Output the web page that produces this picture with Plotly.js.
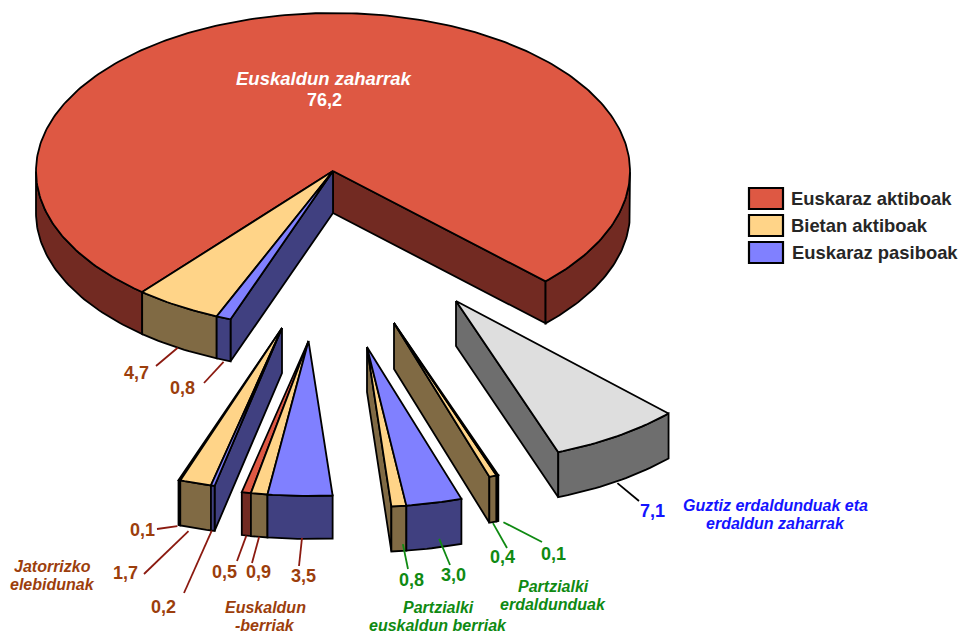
<!DOCTYPE html>
<html><head><meta charset="utf-8">
<script src="https://cdn.plot.ly/plotly-3.0.1.min.js"></script>
<style>html,body{margin:0;padding:0;background:#fff}#c{width:962px;height:633px}</style>
</head><body><div id="c"></div>
<script>
// ---- data ----
const groupNames = ["Euskaldun zaharrak","Jatorrizko elebidunak","Euskaldun -berriak","Partzialki euskaldun berriak","Partzialki erdaldunduak","Guztiz erdaldunduak eta erdaldun zaharrak"];
const groupValues = [[76.2,4.7,0.8],[0.1,1.7,0.2],[0.5,0.9,3.5],[0.8,3.0],[0.4,0.1],[7.1]];
const groupKinds = [[0,1,2],[0,1,2],[0,1,2],[1,2],[1,1],[3]];
const legendNames = ["Euskaraz aktiboak","Bietan aktiboak","Euskaraz pasiboak"];

// ---- styles and layout ----
const topColors = ["#DE5843","#FFD488","#8080FF","#DEDEDE"];
const wallColors = ["#722A22","#806A44","#404080","#6E6E6E"];
const apexX = [333,282,308.5,367,394,456];
const apexY = [171,328,341,347,323,301];
const radX = [297,300,297,300,303,297];
const radY = [158,162,155,160,162,161];
const depths = [42,45,43,45,46,45];
const START = 44.3;
const BROWN = "#9C3E0C", GREEN = "#0F8A12", BLUE = "#1414FF", INK = "#262626";
const FONT = "Liberation Sans, Arial, sans-serif";

const traces = [];
const rad = d => d*Math.PI/180;
const rim = (g,a,dz=0) => [apexX[g]+radX[g]*Math.cos(rad(a)), apexY[g]+radY[g]*Math.sin(rad(a))+dz];
function poly(pts, fill, w=1.8){
  traces.push({type:"scatter",mode:"lines",x:pts.concat([pts[0]]).map(p=>p[0]),y:pts.concat([pts[0]]).map(p=>p[1]),
    fill:"toself",fillcolor:fill,line:{color:"#000",width:w,shape:"linear"},hoverinfo:"skip",showlegend:false});
}
function arc(a1,a2){ const n=Math.max(2,Math.ceil(Math.abs(a1-a2))); const o=[];
  for(let i=0;i<=n;i++) o.push(a1+(a2-a1)*i/n); return o; }
let angle = START;
const spans = groupValues.map(vals => vals.map(v => { const a=angle, b=angle-v*3.6; angle=b; return [a,b]; }));

// back to front: far group first
[0,5,4,3,2,1].forEach(g=>{
  const sp = spans[g], first = sp[0][0], last = sp[sp.length-1][1], P = [apexX[g],apexY[g]];
  const kinds = groupKinds[g], D = depths[g];
  // radial walls, only when they face the viewer
  const walls = [];
  if(Math.cos(rad(first))>0) walls.push([first,kinds[0]]);
  if(Math.cos(rad(last))<0) walls.push([last,kinds[kinds.length-1]]);
  walls.forEach(([a,k])=>{
    poly([P,rim(g,a),rim(g,a,D),[P[0],P[1]+D]], wallColors[k]);
  });
  // outer walls, only the part of each arc that faces the viewer
  sp.forEach(([a,b],i)=>{
    const k=kinds[i]; let run=[];
    const flush=()=>{ if(run.length>1){ poly(run.map(t=>rim(g,t)).concat(run.slice().reverse().map(t=>rim(g,t,D))), wallColors[k]); } run=[]; };
    arc(a,b).forEach(t=>{ const s=Math.sin(rad(t)); if(s>=-0.001) run.push(t); else flush(); });
    flush();
  });
  // top faces
  sp.forEach(([a,b],i)=>{ poly([P].concat(arc(a,b).map(t=>rim(g,t))), topColors[kinds[i]]); });
});

// leader lines: group, slice, end point, nudge of the start point, colour
const leaders = [
 [0,1,156,366,0,0,"#8B1A10"],[0,2,204,383,0,2,"#8B1A10"],
 [1,0,157,529,-2,1,"#8B1A10"],[1,1,144,574,-7,3,"#8B1A10"],[1,2,184,593,-1,0,"#8B1A10"],
 [2,0,237,561,0,0,"#8B1A10"],[2,1,252,563,0,0,"#8B1A10"],[2,2,299,566,2,-1,"#8B1A10"],
 [3,0,408,569,4,-7,GREEN],[3,1,450,565,5,-9,GREEN],
 [4,0,507,548,0,1,GREEN],[4,1,542,542,6,1,GREEN],
 [5,0,639,501,0,2,"#000"]
];
leaders.forEach(([g,s,ex,ey,nx,ny,c])=>{
  const [a,b]=spans[g][s]; const r=rim(g,(a+b)/2,depths[g]);
  traces.push({type:"scatter",mode:"lines",x:[r[0]+nx,ex],y:[r[1]+ny,ey],line:{color:c,width:1.8},hoverinfo:"skip",showlegend:false});
});

// ---- text ----
const fmt = v => v.toFixed(1).replace(".",",");
const ann = [];
function txt(x,y,text,size,color,italic,anchor="center"){
  ann.push({x,y,xref:"x",yref:"y",text:italic?"<b><i>"+text+"</i></b>":"<b>"+text+"</b>",showarrow:false,xanchor:anchor,yanchor:"middle",align:"center",
    font:{family:FONT,size,color}});
}
const vPos = [[[324,100],[136,373],[182,388]],[[142,530],[125,573],[163,607]],[[224,572],[258,572],[303,576]],[[411,580],[453,575]],[[502,557],[553,554]],[[652,511]]];
groupValues.forEach((vals,g)=>vals.forEach((v,i)=>{
  const c = g===0&&i===0?"#fff":g<3?BROWN:g<5?GREEN:BLUE;
  txt(vPos[g][i][0],vPos[g][i][1],fmt(v),18,c,false);
}));
const nameLines = [[groupNames[0]],["Jatorrizko","elebidunak"],["Euskaldun","-berriak"],["Partzialki","euskaldun berriak"],["Partzialki","erdaldunduak"],["Guztiz erdaldunduak eta","erdaldun zaharrak"]];
const gPos = [[324,78,18.5,"#fff"],[52,566,16,BROWN],[265,607,16,BROWN],[438,607,16,GREEN],[553,586,16,GREEN],[775,505,16,BLUE]];
nameLines.forEach((lines,i)=>lines.forEach((t,j)=>txt(gPos[i][0],gPos[i][1]+j*18.5,t,gPos[i][2],gPos[i][3],true)));

const legY = [198.5,225.5,252.5], legT=[789,789,790];
const shapes = legendNames.map((n,i)=>{
  txt(legT[i],legY[i],n,18.4,INK,false,"left");
  return {type:"rect",xref:"x",yref:"y",x0:749,x1:783,y0:legY[i]-10.5,y1:legY[i]+10.5,fillcolor:topColors[i],line:{color:"#000",width:2.2}};
});

Plotly.newPlot("c",traces,{
  width:962,height:633,margin:{l:0,r:0,t:0,b:0},paper_bgcolor:"#fff",plot_bgcolor:"#fff",showlegend:false,
  xaxis:{range:[0,962],visible:false,fixedrange:true},
  yaxis:{range:[633,0],visible:false,fixedrange:true},
  annotations:ann,shapes:shapes
},{displayModeBar:false,staticPlot:true});
</script></body></html>
